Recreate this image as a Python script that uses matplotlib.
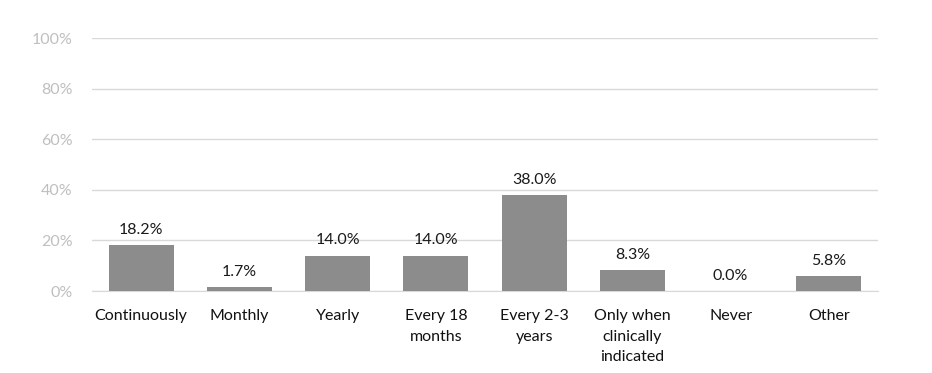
import numpy as np
import matplotlib.pyplot as plt

plt.rcParams['font.family'] = ['Lato', 'DejaVu Sans']

categories = ['Continuously', 'Monthly', 'Yearly', 'Every 18\nmonths',
              'Every 2-3\nyears', 'Only when\nclinically\nindicated', 'Never', 'Other']
values = [18.2, 1.7, 14.0, 14.0, 38.0, 8.3, 0.0, 5.8]
yticks = [0, 20, 40, 60, 80, 100]

fig = plt.figure(figsize=(9.32, 3.73), dpi=100)
ax = fig.add_axes([0.0987, 0.2198, 0.8433, 0.6783])

x = np.arange(len(categories))
ax.bar(x, values, width=0.66, color='#8c8c8c', zorder=3)
for xi, v in zip(x, values):
    ax.text(xi, v + 3.2, f'{v:.1f}%', ha='center', va='bottom', fontsize=11.5, color='#1a1a1a')

ax.set_xlim(-0.5, len(categories) - 0.5)
ax.set_ylim(0, 100)
ax.set_yticks(yticks)
ax.set_yticklabels([f'{t}%' for t in yticks], color='#bfbfbf', fontsize=11.5)
ax.set_xticks(x)
ax.set_xticklabels(categories, fontsize=11.5, color='#111111', linespacing=1.6)
ax.tick_params(axis='both', length=0)
ax.tick_params(axis='x', pad=13)
ax.tick_params(axis='y', pad=14)
ax.grid(axis='y', color='#d9d9d9', linewidth=1, zorder=0)
for s in ['top', 'right', 'left']:
    ax.spines[s].set_visible(False)
ax.spines['bottom'].set_color('#d9d9d9')

fig.savefig('out.png', dpi=100)
